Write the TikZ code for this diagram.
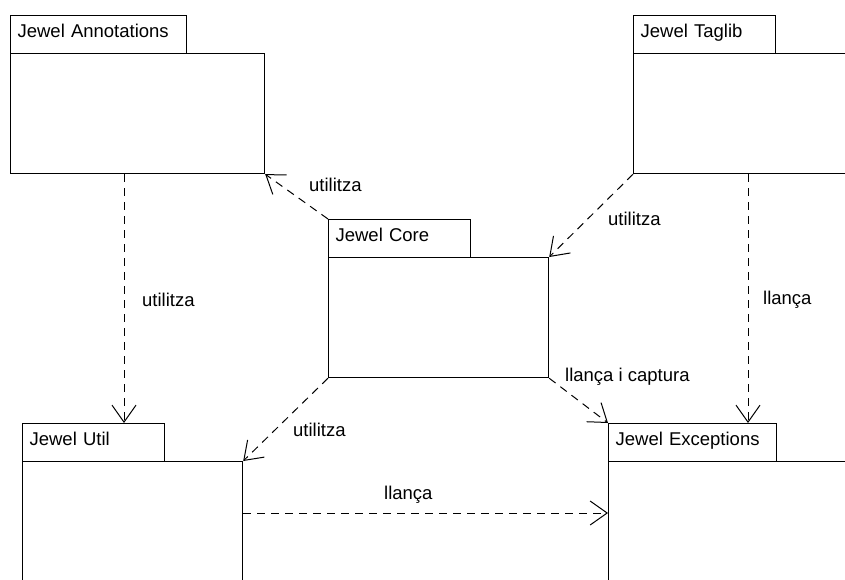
\documentclass[tikz,border=0pt]{standalone}
\usepackage{fontspec}
\setmainfont{Liberation Sans}
\usetikzlibrary{arrows.meta}
\begin{document}
\begin{tikzpicture}[x=1pt,y=-1pt,
  font=\fontsize{18.5}{21}\selectfont,
  pkgtab/.style={draw, line width=1.2pt, fill=white, anchor=north west,
    inner xsep=7pt, inner ysep=0pt, align=left, text height=13pt, text depth=7pt},
  pkgbody/.style={draw, line width=1.2pt, fill=white, anchor=north west, inner sep=0pt},
  dep/.style={line width=1pt, dash pattern=on 8pt off 6pt,
    -{Straight Barb[length=17pt,width=24pt,line width=1pt]}},
  lbl/.style={anchor=west, inner sep=0pt}]
\useasboundingbox (0,0) rectangle (845,579);
\clip (0,0) rectangle (845,579);
\fill[white] (0,0) rectangle (845,579);

% packages: tab + body
\node[pkgtab, minimum width=176pt, minimum height=38pt, text width=162pt] (annT) at (10,15) {Jewel Annotations};
\node[pkgbody, minimum width=254pt, minimum height=120pt] (annB) at (10,53) {};

\node[pkgtab, minimum width=142pt, minimum height=38pt, text width=128pt] (tagT) at (633,15) {Jewel Taglib};
\node[pkgbody, minimum width=260pt, minimum height=120pt] (tagB) at (633,53) {};

\node[pkgtab, minimum width=142pt, minimum height=38pt, text width=128pt] (coreT) at (328,219) {Jewel Core};
\node[pkgbody, minimum width=220pt, minimum height=120pt] (coreB) at (328,257) {};

\node[pkgtab, minimum width=142pt, minimum height=38pt, text width=128pt] (utilT) at (22,423) {Jewel Util};
\node[pkgbody, minimum width=220pt, minimum height=150pt] (utilB) at (22,461) {};

\node[pkgtab, minimum width=168pt, minimum height=38pt, text width=154pt] (excT) at (608,423) {Jewel Exceptions};
\node[pkgbody, minimum width=260pt, minimum height=150pt] (excB) at (608,461) {};

% dependencies
\draw[dep] ([xshift=114pt]annB.south west) -- ([xshift=102pt]utilT.north west);
\draw[dep] (coreT.north west) -- (annB.south east);
\draw[dep] (tagB.south west) -- (coreB.north east);
\draw[dep] ([xshift=115pt]tagB.south west) -- ([xshift=140pt]excT.north west);
\draw[dep] (coreB.south west) -- (utilB.north east);
\draw[dep] (coreB.south east) -- (excT.north west);
\draw[dep] ([yshift=-52pt]utilB.north east) -- ([yshift=-52pt]excB.north west);

% labels
\node[lbl] (l1) at (142,300) {utilitza};
\node[lbl] (l2) at (309,185) {utilitza};
\node[lbl] (l3) at (608,219) {utilitza};
\node[lbl] (l4) at (763,300) {llança};
\node[lbl] (l5) at (293,430) {utilitza};
\node[lbl] (l6) at (565,377) {llança i captura};
\node[lbl] (l7) at (384,495) {llança};
\end{tikzpicture}
\end{document}
